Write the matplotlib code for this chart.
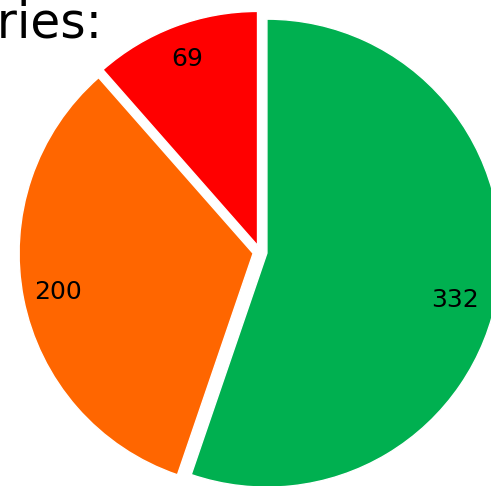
import matplotlib
matplotlib.use("Agg")
import matplotlib.pyplot as plt


# -----------------------------
# Data
# -----------------------------
values = [332, 200, 69]
colors = ["#00B050", "#FF6600", "#FF0000"]
title_text = "Series:"


# -----------------------------
# Figure / axes (pie is larger than the canvas, clipped at edges)
# -----------------------------
W, H = 491, 486
cx, cy = 260, 252      # pie centre in pixels (from top-left)
scale = 234            # pixels per unit radius

fig = plt.figure(figsize=(W / 100, H / 100), dpi=100)
ax = fig.add_axes([0, 0, 1, 1])

wedges, texts, autotexts = ax.pie(
    values,
    colors=colors,
    startangle=90,
    counterclock=False,
    explode=[0.03, 0.03, 0.03],
    autopct=lambda p: "%d" % round(p * sum(values) / 100),
    pctdistance=0.85,
    textprops={"fontsize": 18, "color": "black"},
    wedgeprops={"edgecolor": "white", "linewidth": 1},
)

# green label sits a bit lower than the mid-angle
x, y = autotexts[0].get_position()
autotexts[0].set_position((x - 0.035, y - 0.06))

ax.set_xlim(-cx / scale, (W - cx) / scale)
ax.set_ylim(-(H - cy) / scale, cy / scale)
ax.set_aspect("auto")
ax.axis("off")


# -----------------------------
# Title (partly cut off on the left)
# -----------------------------
fig.text(103 / W, 1 - 37 / H, title_text, fontsize=35,
         ha="right", va="baseline")

fig.savefig("out.png", dpi=100)
